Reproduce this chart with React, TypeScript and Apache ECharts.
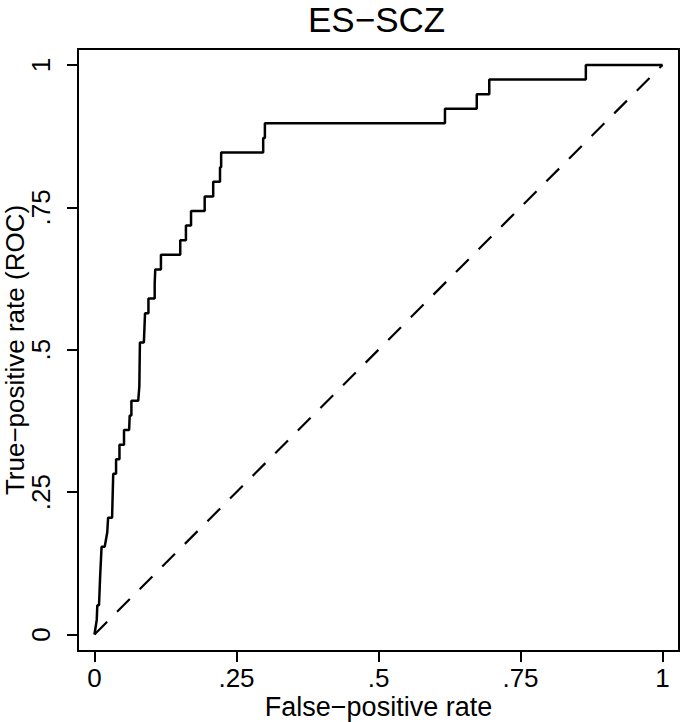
import React, { useEffect, useRef } from "react";
import * as echarts from "echarts";

// ROC curve points: false-positive rate and count of true positives (out of 39)
const fprValues: number[] = [
  0, 0.004, 0.005, 0.008, 0.010, 0.0125, 0.018, 0.0225, 0.024, 0.031,
  0.033, 0.038, 0.038, 0.044, 0.044, 0.052, 0.052, 0.061, 0.062, 0.065,
  0.065, 0.077, 0.079, 0.080, 0.087, 0.089, 0.095, 0.095, 0.106, 0.106,
  0.107, 0.117, 0.117, 0.151, 0.151, 0.161, 0.161, 0.170, 0.170, 0.194,
  0.194, 0.209, 0.209, 0.221, 0.221, 0.223, 0.223, 0.297, 0.297, 0.300,
  0.300, 0.617, 0.617, 0.673, 0.673, 0.695, 0.695, 0.865, 0.865, 1,
];
const tpCounts: number[] = [
  0, 1, 2, 2, 4, 6, 6, 7, 8, 8,
  11, 11, 12, 12, 13, 13, 14, 14, 15, 15,
  16, 16, 17, 20, 20, 22, 22, 23, 23, 24,
  25, 25, 26, 26, 27, 27, 28, 28, 29, 29,
  30, 30, 31, 31, 32, 32, 33, 33, 34, 34,
  35, 35, 36, 36, 37, 37, 38, 38, 39, 39,
];
const totalPositives = 39;
const refLineX: number[] = [0, 1];
const refLineY: number[] = [0, 1];
const tickValues: number[] = [0, 0.25, 0.5, 0.75, 1];

const FONT = "'Liberation Sans', Helvetica, Arial, sans-serif";

const fmt = (v: number) => {
  const s = String(Math.round(v * 100) / 100);
  return s.startsWith("0.") ? s.slice(1) : s;
};

export default function App() {
  const ref = useRef<HTMLDivElement>(null);

  useEffect(() => {
    document.body.style.margin = "0";
    if (!ref.current) return;
    const chart = echarts.init(ref.current, null, { renderer: "svg" });
    const rocData = fprValues.map((x, i) => [x, tpCounts[i] / totalPositives]);
    const refData = refLineX.map((x, i) => [x, refLineY[i]]);

    chart.setOption({
      animation: false,
      backgroundColor: "#fff",
      title: {
        text: "ES\u2212SCZ",
        left: 308,
        top: 2,
        padding: 0,
        textStyle: { fontFamily: FONT, fontSize: 35, fontWeight: "normal", color: "#000" },
      },
      grid: {
        left: 78,
        top: 49,
        width: 601,
        height: 602,
        show: true,
        borderColor: "#000",
        borderWidth: 2,
        backgroundColor: "#fff",
        containLabel: false,
        outerBoundsMode: "none",
      },
      xAxis: {
        type: "value",
        min: -0.029,
        max: 1.029,
        name: "False\u2212positive rate",
        nameLocation: "middle",
        nameGap: 42,
        nameMoveOverlap: false,
        nameTextStyle: { fontFamily: FONT, fontSize: 27, color: "#000" },
        axisLine: { show: true, onZero: false, lineStyle: { color: "#000", width: 2 } },
        axisTick: {
          show: true,
          length: 11,
          customValues: tickValues,
          lineStyle: { color: "#000", width: 2 },
        },
        axisLabel: {
          customValues: tickValues,
          formatter: fmt,
          margin: 14,
          fontFamily: FONT,
          fontSize: 26,
          color: "#000",
        },
        splitLine: { show: false },
      },
      yAxis: {
        type: "value",
        min: -0.029,
        max: 1.028,
        name: "True\u2212positive rate (ROC)",
        nameLocation: "middle",
        nameGap: 50,
        nameMoveOverlap: false,
        nameTextStyle: { fontFamily: FONT, fontSize: 26, color: "#000" },
        axisLine: { show: true, onZero: false, lineStyle: { color: "#000", width: 2 } },
        axisTick: {
          show: true,
          length: 11,
          customValues: tickValues,
          lineStyle: { color: "#000", width: 2 },
        },
        axisLabel: {
          customValues: tickValues,
          formatter: fmt,
          rotate: 90,
          margin: 24,
          fontFamily: FONT,
          fontSize: 26,
          color: "#000",
        },
        splitLine: { show: false },
      },
      series: [
        {
          type: "line",
          name: "Reference",
          data: refData,
          showSymbol: false,
          lineStyle: { color: "#000", width: 2.2, type: [18, 14] },
          z: 2,
        },
        {
          type: "line",
          name: "ROC",
          data: rocData,
          showSymbol: false,
          lineStyle: { color: "#000", width: 2.5 },
          z: 3,
        },
      ],
    });
    return () => chart.dispose();
  }, []);

  return <div ref={ref} style={{ width: 680, height: 722 }} />;
}
